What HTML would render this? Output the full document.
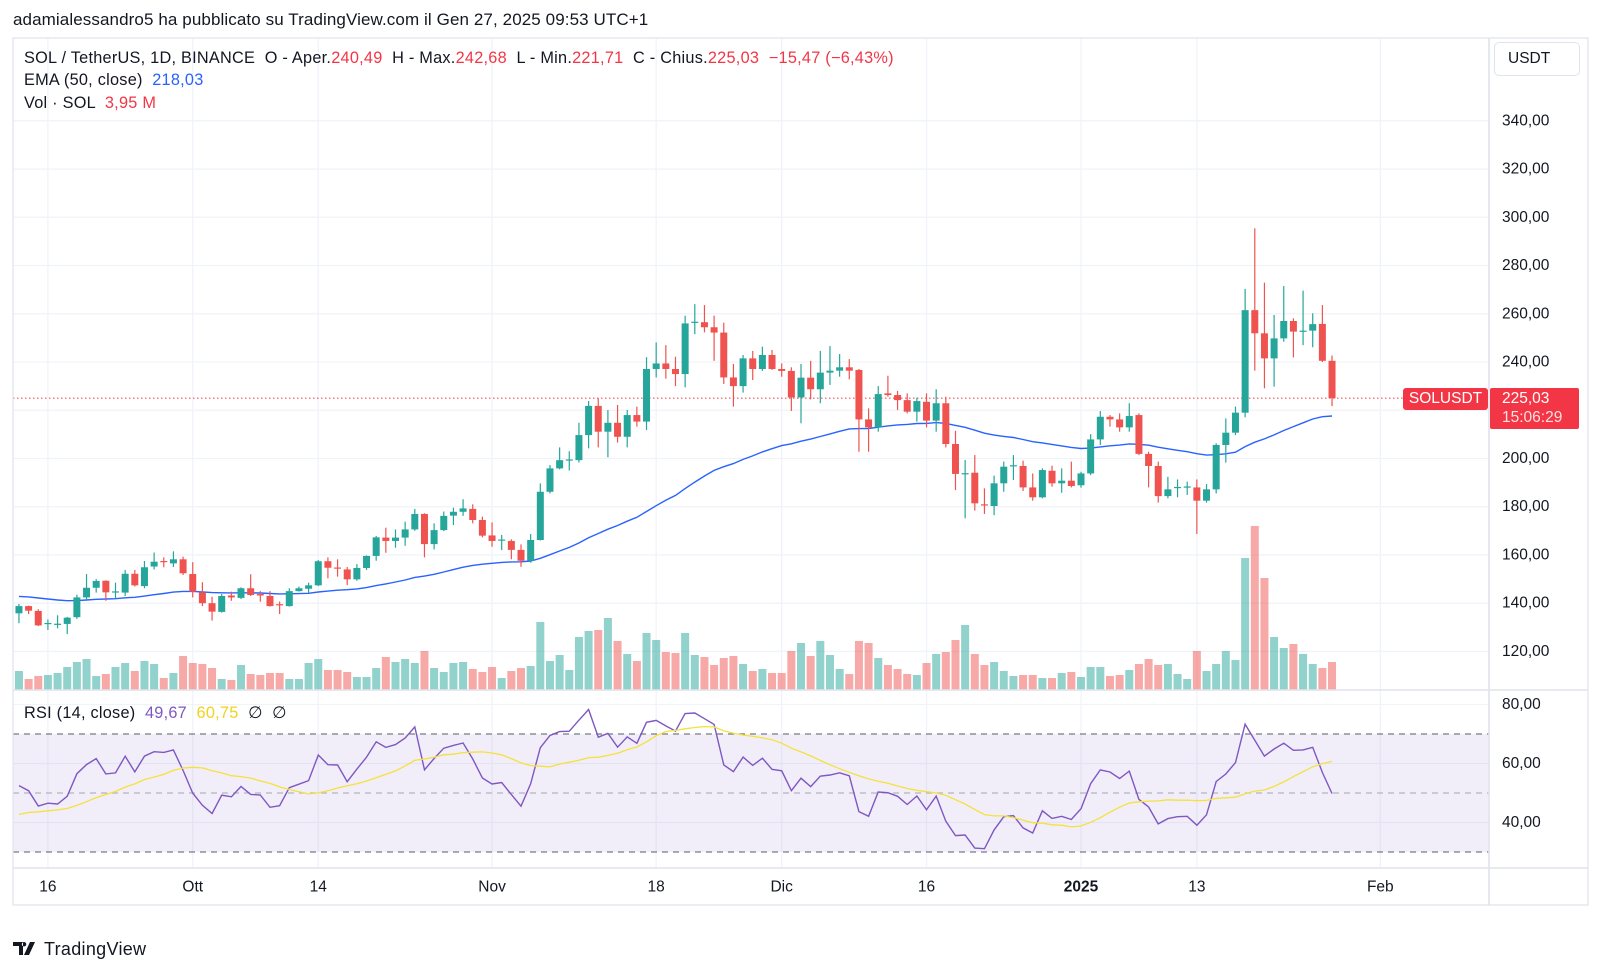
<!DOCTYPE html>
<html><head><meta charset="utf-8"><title>SOL/USDT chart</title>
<style>
html,body{margin:0;padding:0;background:#fff;}
body{width:1600px;height:952px;position:relative;overflow:hidden;font-family:"Liberation Sans",sans-serif;color:#131722;}
.t{position:absolute;white-space:pre;}
.lg{font-size:16.3px;letter-spacing:0.25px;}
.r{color:#f23645}.b{color:#2962ff}.p{color:#7e57c2}.y{color:#f2d21b}
svg{position:absolute;left:0;top:0;}
</style></head>
<body>
<div class="t" style="left:13px;top:10px;font-size:17px;letter-spacing:0.1px;">adamialessandro5 ha pubblicato su TradingView.com il Gen 27, 2025 09:53 UTC+1</div>
<svg id="chart" width="1600" height="952"></svg>
<div class="t lg" style="left:24px;top:49px;">SOL / TetherUS, 1D, BINANCE  O - Aper.<span class="r">240,49</span>  H - Max.<span class="r">242,68</span>  L - Min.<span class="r">221,71</span>  C - Chius.<span class="r">225,03</span>  <span class="r">−15,47 (−6,43%)</span></div>
<div class="t lg" style="left:24px;top:71px;">EMA (50, close)  <span class="b">218,03</span></div>
<div class="t lg" style="left:24px;top:94px;">Vol · SOL  <span class="r">3,95 M</span></div>
<div class="t lg" style="left:24px;top:703px;">RSI (14, close)  <span class="p">49,67</span>  <span class="y">60,75</span>  ∅  ∅</div>
<div class="t" style="left:1494px;top:42px;width:86px;height:34px;border:1px solid #e0e3eb;border-radius:5px;box-sizing:border-box;font-size:15.5px;line-height:32px;padding-left:13px;">USDT</div>
<div class="t" style="left:1403px;top:388px;width:85px;height:22px;background:#f23645;color:#fff;border-radius:3px;font-size:15.5px;line-height:22px;text-align:center;">SOLUSDT</div>
<div class="t" style="left:1490px;top:388px;width:89px;height:41px;background:#f23645;color:#fff;border-radius:2px;font-size:15.5px;line-height:19px;padding:1px 0 0 12px;box-sizing:border-box;">225,03<br><span style="color:#fde0e2">15:06:29</span></div>
<div class="t" style="left:13px;top:918px;font-size:18px;">
<svg width="28" height="16" style="position:relative;top:2px;left:0"><path d="M0 1h10v13H6V5H0z M11 1a2.2 2.2 0 1 0 .1 0z M17 1h5l-6 13h-5z" fill="#131722"/></svg><span style="position:relative;left:3px;letter-spacing:0.3px;">TradingView</span></div>
<script>
const opens=[135.8,138.8,136.8,131.5,131.2,131.4,134.2,142.4,146.4,149.3,144.6,144.4,152.2,147.1,155.2,157.5,156.5,158.2,152.1,144.5,140,136.4,143.2,142.2,146.2,143.8,143,139.6,138.8,145,146,147.4,157.4,154.8,
154.0,149.9,154.6,159.6,167.2,165.8,167.2,170.6,177,164.5,170.3,176.3,177.9,179.1,174.5,168.1,166.1,165.8,162.1,157.6,166.2,186.2,195.9,199.3,199.3,209.7,221.8,211.1,214.8,209,218,215.3,237.1,
239.4,237.1,235,256.2,256.5,254.4,252.2,233.6,230,241.5,237.1,242.9,237.1,236.3,225.3,233.5,228.7,235.6,236.4,237.8,236.7,216.2,212.9,227,226.3,224.2,219.4,223.5,215.7,222.9,206,193.6,194.1,
181,180.3,189.7,196.9,196.9,188,183.9,194.9,189.7,190.8,188.9,193.8,207.9,217.3,216.2,212.9,218,201.9,196.9,184.4,187.9,188.1,188,182.5,187.2,205.6,210.7,219,261.5,251.9,241.5,249.8,257,252.8,253,255.8,240.49];
const closes=[138.8,136.9,130.8,131.8,131.5,134,142.4,146.4,149.2,144.5,144.9,152.2,147.4,154.9,157.2,157,158.2,152.4,144.8,140,136.5,143,142.4,146.2,143.4,143.2,138.8,139.3,145,146.2,147.4,157.4,154.7,154.6,
149.9,154.6,159.6,167.3,165.8,167.2,170.6,177,164.5,170.3,176.2,177.9,179.3,174.5,168,165.8,166.4,162.1,157.6,166.2,186.2,195.9,199.3,199.6,209.7,221.8,211.1,214.8,209,218,215.3,237.1,239.4,
237.1,235,256,256.7,254.4,252.2,233.6,230,241.5,237.1,242.9,237.1,236.3,225.3,233.5,228.7,235.6,236.4,237.8,236.4,216.2,212.9,226.7,226.3,224.2,219.4,223.8,215.7,222.9,206,193.6,193.9,181.4,
180.7,189.7,196.6,197.2,188,183.9,195.2,189.7,190.8,188.6,193.8,207.9,217.3,216.2,212.9,217.6,201.9,196.9,184.4,187.2,188.2,188.4,182.5,187.2,205.6,210.7,219,261.5,251.9,241.5,249.8,257,252.6,253,255.7,240.5,225.03];
const highs=[139.7,139,137.5,133.3,135,134.3,143.5,152.1,150,149.5,148.5,153.8,153.8,157.5,161,159,161.5,159.3,157,148.7,142.7,143.8,144.8,146.6,152,145,145,140.7,146.2,146.9,148.5,157.9,159,158.2,
155,156.2,159.8,167.9,171.3,170.6,173.8,179.1,177.3,173.1,178,179.6,183.1,181,175.9,173.5,168.3,166.5,164.4,168.7,189.7,197.3,204.6,203,214.8,223.8,224.9,220.1,222.2,220.1,221.5,242,248.1,
247,242.2,259.2,264,263.6,259.2,256.3,239.2,242.9,244.6,246.4,245,239.4,237.8,239.2,240.5,244.6,246.6,243.3,241.2,237.1,220.8,230,234.3,228,227,225.2,227,228.7,225.6,211.5,199.4,201.4,
187.6,192.9,198.7,201.4,199.1,193.8,195.9,197,195.9,198.7,194.5,210.1,219.7,218,218.7,222.9,218.7,202.8,198.7,192.4,191.3,190.4,191.3,189.4,206.3,216.6,221.5,270.3,295.4,272.9,259.5,271.5,258.1,269.6,260.2,263.6,242.68];
const lows=[131.7,135.5,130.5,128.9,129.6,127.2,133.5,141.6,144.4,141,141.9,143,146.9,146.2,154,154.9,155,151.7,142.4,138.8,132.8,136.1,141,141.7,143,140.6,138.6,135.5,138.6,144.8,144.1,147.1,150.3,151,
147.5,149.3,153.8,157.6,160.9,163,163.8,170,159,162.3,169.9,172.4,176.2,173.1,167.3,163.4,162,158.2,155.1,156.8,166,185.5,195.5,195,198.3,204.2,204.6,200.5,206.6,204.6,213.2,211.8,233.6,
233.1,230,229.5,251.5,252.3,240.5,230.9,221.5,227.3,232.5,236.3,236.7,233.9,219.7,214.6,224.5,222.9,230.5,233.9,232.8,202.8,202.8,211.1,225.6,220.1,218.7,215.3,212.9,211.1,204.6,186.9,175.2,178.4,
177,176.5,186.2,191.1,186.5,182.5,183.5,188.3,185.8,188,187.9,193.1,205.6,213.2,211.1,211.1,201.4,188,181.7,183.5,183.9,184.9,168.7,181.7,185.5,198.3,209.7,217.1,236.4,229.1,229.8,248.4,241.9,247,246.1,240,221.71];
const volumes=[19,11,14,15,17,23,28,31,14,16,23,27,19,29,26,12,17,34,27,26,22,11,10,25,16,15,17,17,11,11,27,31,20,20,
18,13,13,22,33,28,31,27,39,22,18,27,28,21,18,23,12,19,22,24,68,29,35,20,53,59,60,72,49,36,29,57,50,
38,37,57,35,33,25,32,34,26,19,21,17,17,39,47,34,49,35,21,16,49,47,32,25,21,16,15,27,36,38,50,65,36,
25,28,19,14,15,15,12,12,17,18,13,23,23,14,15,20,26,31,25,26,16,11,39,19,26,39,30,132,164,112,53,42,46,36,26,22,28];
const priceTicks=[120,140,160,180,200,220,240,260,280,300,320,340];
const rsiTicks=[40,60,80];
const timeLabels=["16","Ott","14","Nov","18","Dic","16","2025","13","Feb"];
const timeIndex=[3,18,31,49,66,79,94,110,122,141];
const emaSeed=143, rsiSeedGain=2.2, rsiSeedLoss=2.2, rsiMaSeed=42;

const NS="http://www.w3.org/2000/svg";
const svg=document.getElementById('chart');
function mk(tag,attrs,parent){const e=document.createElementNS(NS,tag);for(const k in attrs)e.setAttribute(k,attrs[k]);(parent||svg).appendChild(e);return e;}
const L=13,R=1588,T=38,B=905,AX=1489,DIV=690,TA=868;
const xS=i=>1081+(i-110)*9.655;
const yP=p=>362-(p-240)*2.412;
const yR=r=>793-(r-50)*2.95;
const yV=v=>DIV-v;
const GREEN="#26a69a",RED="#ef5350";

const grid=mk('g',{});


priceTicks.forEach(p=>{const l=mk('line',{x1:L,x2:AX,y1:yP(p),y2:yP(p),stroke:"#f0f3fa","stroke-width":1.3},grid);
});
rsiTicks.forEach(r=>{const l=mk('line',{x1:L,x2:AX,y1:yR(r),y2:yR(r),stroke:"#f0f3fa","stroke-width":1.3},grid);
});
const band=mk('rect',{x:L,y:yR(70),width:AX-L,height:yR(30)-yR(70),fill:"#7e57c2","fill-opacity":0.1});


timeIndex.forEach(i=>{const l=mk('line',{x1:xS(i),x2:xS(i),y1:T,y2:TA,stroke:"#f0f3fa","stroke-width":1.3},grid);
});
[70,50,30].forEach(r=>{const l=mk('line',{x1:L,x2:AX,y1:yR(r),y2:yR(r),stroke:r==50?"#b2b5be":"#787b86","stroke-width":1.2,"stroke-dasharray":"6,5"});
});

const vg=mk('g',{});


volumes.forEach((v,i)=>{const up=closes[i]>=opens[i];
const r=mk('rect',{x:xS(i)-4,y:yV(v),width:8,height:v,fill:up?GREEN:RED,"fill-opacity":0.5},vg);
});

const ema=[];let e=emaSeed;const a=2/51;
closes.forEach(c=>{e=e+a*(c-e);ema.push(e);});
const emaPath=mk('path',{d:ema.map((v,i)=>(i?'L':'M')+xS(i).toFixed(1)+' '+yP(v).toFixed(1)).join(''),fill:"none",stroke:"#2962ff","stroke-width":1.4});



const pl=mk('line',{x1:L,x2:1403,y1:yP(closes[closes.length-1]),y2:yP(closes[closes.length-1]),stroke:"#f23645","stroke-width":1,"stroke-dasharray":"1.5,2.5"});



const cg=mk('g',{});


closes.forEach((c,i)=>{const o=opens[i],up=c>=o,col=up?GREEN:RED,x=xS(i);
const w=mk('line',{x1:x,x2:x,y1:yP(highs[i]),y2:yP(lows[i]),stroke:col,"stroke-width":1.2},cg);

const t=Math.min(yP(o),yP(c)),h=Math.max(1.2,Math.abs(yP(o)-yP(c)));
const b=mk('rect',{x:x-3.5,y:t,width:7,height:h,fill:col},cg);
});

const rsi=[];let ag=rsiSeedGain,al=rsiSeedLoss,prev=opens[0];
closes.forEach(c=>{const d=c-prev;prev=c;ag=(ag*13+Math.max(d,0))/14;al=(al*13+Math.max(-d,0))/14;rsi.push(100-100/(1+ag/al));});
const rsiMa=rsi.map((v,i)=>{let s=0;for(let k=i-13;k<=i;k++)s+=k>=0?rsi[k]:rsiMaSeed;return s/14;});
const rp=mk('path',{d:rsi.map((v,i)=>(i?'L':'M')+xS(i).toFixed(1)+' '+yR(v).toFixed(1)).join(''),fill:"none",stroke:"#7e57c2","stroke-width":1.4});


const mp=mk('path',{d:rsiMa.map((v,i)=>(i?'L':'M')+xS(i).toFixed(1)+' '+yR(v).toFixed(1)).join(''),fill:"none",stroke:"#f5e13b","stroke-width":1.3});



mk('rect',{x:0,y:T,width:L,height:B-T,fill:"#fff"});
const fr=mk('rect',{x:L,y:T,width:R-L,height:B-T,fill:"none",stroke:"#e0e3eb","stroke-width":1.2});


[[L,DIV,R,DIV],[L,TA,R,TA],[AX,T,AX,B]].forEach(s=>{const l=mk('line',{x1:s[0],y1:s[1],x2:s[2],y2:s[3],stroke:"#e0e3eb","stroke-width":1.6});
});

function txt(x,y,s,attrs){const t=mk('text',Object.assign({x:x,y:y,"font-family":"Liberation Sans, sans-serif","font-size":15.5,fill:"#131722","dominant-baseline":"central"},attrs||{}));t.textContent=s;return t;}
priceTicks.forEach(p=>{if(p===220)return;const t=txt(1502,yP(p),p.toFixed(2).replace('.',','));
});
rsiTicks.forEach(r=>{const t=txt(1502,yR(r),r.toFixed(2).replace('.',','));
});
timeLabels.forEach((s,k)=>{const t=txt(xS(timeIndex[k]),887,s,{"text-anchor":"middle","font-weight":s==="2025"?"bold":"normal"});
});
</script>
</body></html>
